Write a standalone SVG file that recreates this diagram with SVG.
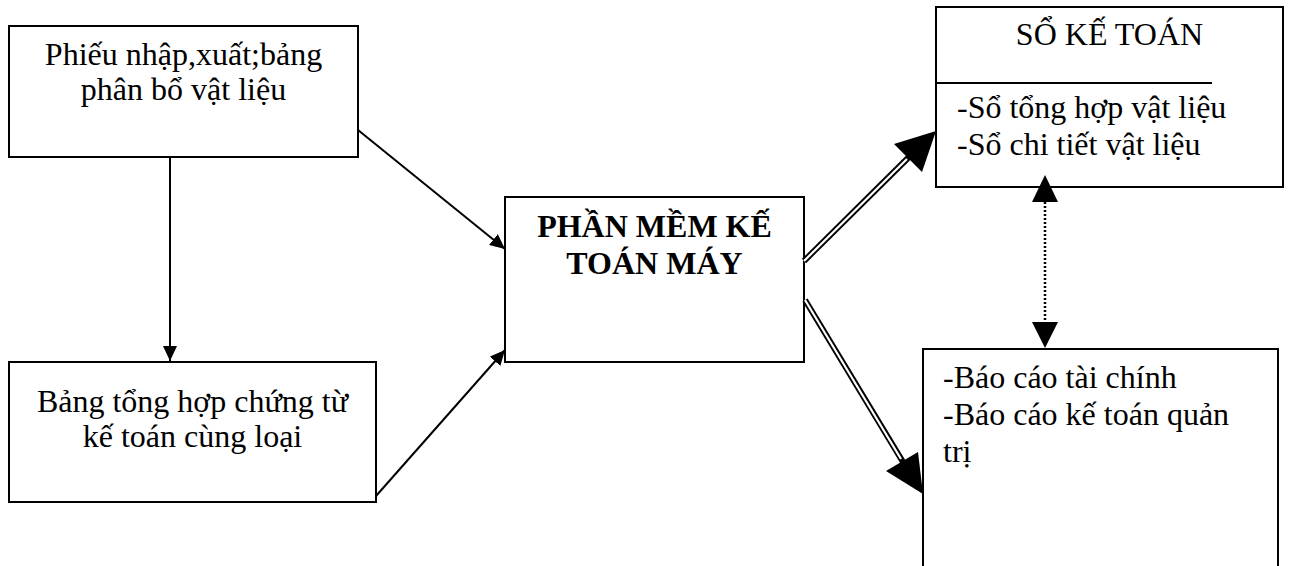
<svg xmlns="http://www.w3.org/2000/svg" width="1290" height="566" viewBox="0 0 1290 566">
  <style>
    .box { fill: #fff; stroke: #000; stroke-width: 2; }
    .txt { font-family: "Liberation Serif", "Times New Roman", serif; font-size: 32px; fill: #000; }
    .mid { text-anchor: middle; }
    .bold { font-weight: bold; }
    .link { stroke: #000; stroke-width: 2; fill: none; }
    .dbl-out { stroke: #000; stroke-width: 6; fill: none; }
    .dbl-in { stroke: #fff; stroke-width: 2.2; fill: none; }
    .dots { stroke: #000; stroke-width: 2.5; stroke-dasharray: 2 2; fill: none; }
    .head { fill: #000; stroke: none; }
  </style>
  <defs>
    <marker id="head-small" markerUnits="userSpaceOnUse" markerWidth="16" markerHeight="14" refX="15" refY="7" orient="auto">
      <path d="M0,0 L15,7 L0,14 Z" fill="#000"/>
    </marker>
  </defs>

  <rect width="1290" height="566" fill="#fff"/>

  <g id="node-phieu">
    <rect class="box" x="9" y="26" width="349" height="131"/>
    <text class="txt mid" x="183.5" y="65">Phiếu nhập,xuất;bảng</text>
    <text class="txt mid" x="183.5" y="100">phân bổ vật liệu</text>
  </g>

  <g id="node-bang-tong-hop">
    <rect class="box" x="9" y="362" width="367" height="140"/>
    <text class="txt mid" x="192.5" y="412">Bảng tổng hợp chứng từ</text>
    <text class="txt mid" x="192.5" y="447">kế toán cùng loại</text>
  </g>

  <g id="node-phan-mem">
    <rect class="box" x="505" y="197" width="299" height="165"/>
    <text class="txt mid bold" x="654.5" y="237">PHẦN MỀM KẾ</text>
    <text class="txt mid bold" x="654.5" y="274">TOÁN MÁY</text>
  </g>

  <g id="node-so-ke-toan">
    <rect class="box" x="936" y="7" width="347" height="180"/>
    <line class="link" x1="936" y1="83" x2="1212" y2="83"/>
    <text class="txt mid" x="1109.5" y="45">SỔ KẾ TOÁN</text>
    <text class="txt" x="957" y="118">-Sổ tổng hợp vật liệu</text>
    <text class="txt" x="957" y="155">-Sổ chi tiết vật liệu</text>
  </g>

  <g id="node-bao-cao">
    <rect class="box" x="923" y="349" width="355" height="240"/>
    <text class="txt" x="943" y="388">-Báo cáo tài chính</text>
    <text class="txt" x="943" y="425">-Báo cáo kế toán quản</text>
    <text class="txt" x="943" y="462">trị</text>
  </g>

  <!-- connectors -->
  <g id="connectors">
    <line class="link" x1="170" y1="157" x2="170" y2="361" marker-end="url(#head-small)"/>
    <line class="link" x1="358" y1="130" x2="505" y2="249" marker-end="url(#head-small)"/>
    <line class="link" x1="376" y1="496" x2="505" y2="350" marker-end="url(#head-small)"/>

    <!-- double-stroke arrows out of the software box -->
    <line class="dbl-out" x1="804" y1="261" x2="909" y2="157"/>
    <line class="dbl-in" x1="804" y1="261" x2="907" y2="159"/>
    <polygon class="head" points="936,131 894,144 922,172"/>
    <line class="dbl-out" x1="805" y1="300" x2="903" y2="462"/>
    <line class="dbl-in" x1="805" y1="300" x2="901" y2="459"/>
    <polygon class="head" points="923,494 886,471 918,452"/>

    <!-- dotted two-way link between ledgers and reports -->
    <line class="dots" x1="1045" y1="202" x2="1045" y2="322"/>
    <polygon class="head" points="1045,175 1032,202 1058,202"/>
    <polygon class="head" points="1045,348 1032,322 1058,322"/>
  </g>
</svg>
